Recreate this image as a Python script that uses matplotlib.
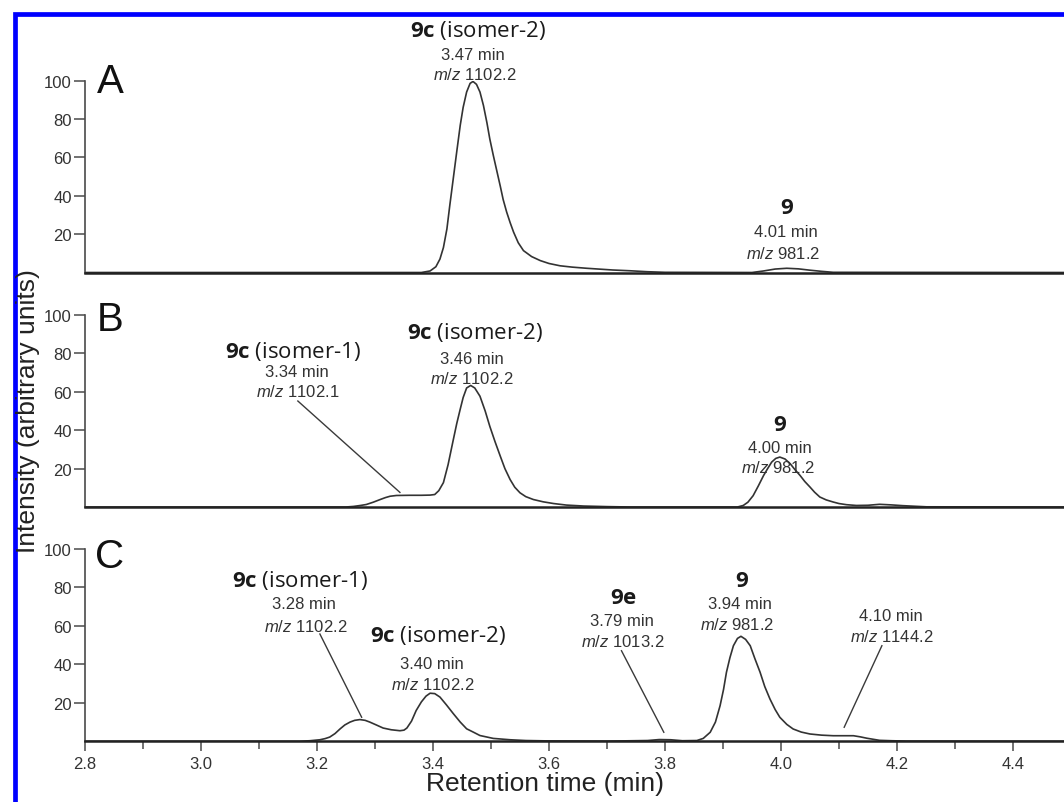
"""
LC-MS extracted ion chromatograms for panels A, B and C
(retention time vs. normalised intensity).
"""

import matplotlib.pyplot as plt
from matplotlib.lines import Line2D
from matplotlib.ticker import FixedLocator, MultipleLocator

plt.rcParams["font.family"] = ["Liberation Sans", "DejaVu Sans"]
plt.rcParams["mathtext.fontset"] = "custom"
plt.rcParams["mathtext.rm"] = "Liberation Sans"
plt.rcParams["mathtext.it"] = "Liberation Sans:italic"
plt.rcParams["mathtext.bf"] = "Open Sans:bold"

# ---- traces (time in min, intensity 0-100) ----
time_a = [2.80, 3.38, 3.395, 3.405, 3.412, 3.418, 3.424, 3.429, 3.435, 3.441,
          3.447, 3.452, 3.458, 3.464, 3.469, 3.475, 3.481, 3.487, 3.493, 3.498,
          3.504, 3.510, 3.516, 3.521, 3.527, 3.533, 3.539, 3.547, 3.556, 3.570,
          3.585, 3.600, 3.619, 3.640, 3.665, 3.690, 3.710, 3.740, 3.770, 3.800,
          3.950, 3.970, 3.990, 4.010, 4.030, 4.050, 4.070, 4.090, 4.49]
int_a = [0, 0, 0.8, 3, 7, 13, 22.7, 35, 49, 63,
         76.7, 86, 94, 98.5, 99.5, 98, 94, 87, 78, 69.5,
         61, 53, 45, 38, 31.5, 26, 21, 15.5, 11.4, 8.3,
         6.2, 4.7, 3.5, 2.8, 2.2, 1.7, 1.3, 0.9, 0.4, 0.1,
         0, 0.8, 1.8, 2.2, 1.9, 1.2, 0.6, 0.1, 0]

time_b = [2.80, 3.250, 3.263, 3.275, 3.285, 3.297, 3.309, 3.318, 3.326, 3.337,
          3.360, 3.380, 3.395, 3.403, 3.410, 3.418, 3.426, 3.435, 3.441, 3.447,
          3.452, 3.458, 3.465, 3.472, 3.481, 3.490, 3.498, 3.507, 3.516, 3.524,
          3.533, 3.541, 3.550, 3.560, 3.573, 3.590, 3.608, 3.630, 3.660, 3.700,
          3.740, 3.925, 3.935, 3.943, 3.952, 3.961, 3.970, 3.977, 3.984, 3.991,
          3.998, 4.007, 4.016, 4.024, 4.033, 4.041, 4.050, 4.058, 4.067, 4.078,
          4.090, 4.100, 4.113, 4.130, 4.150, 4.170, 4.190, 4.210, 4.230, 4.251,
          4.49]
int_b = [0, 0, 0.3, 0.8, 1.3, 2.5, 3.9, 4.9, 5.6, 6.0,
         6.1, 6.1, 6.2, 6.5, 8.5, 12.7, 22, 35, 43.5, 51,
         57, 62, 63.3, 62, 57.7, 50, 42, 34, 26.5, 20,
         14.3, 10.3, 7.4, 5.4, 3.9, 2.7, 1.8, 1.0, 0.5, 0.2,
         0, 0, 0.8, 2.5, 5.9, 11, 16.4, 20, 23.4, 25.3,
         26, 25, 22.5, 19.5, 16.4, 13.3, 10.4, 7.7, 5.2, 3.7,
         2.6, 1.8, 1.2, 0.8, 0.9, 1.4, 1.1, 0.7, 0.4, 0.1,
         0]

time_c = [2.80, 3.170, 3.188, 3.205, 3.214, 3.222, 3.231, 3.240, 3.248, 3.257,
          3.265, 3.274, 3.283, 3.291, 3.303, 3.314, 3.328, 3.343, 3.350, 3.355,
          3.363, 3.371, 3.380, 3.388, 3.395, 3.403, 3.412, 3.423, 3.435, 3.447,
          3.458, 3.470, 3.481, 3.504, 3.533, 3.560, 3.600, 3.700, 3.770, 3.790,
          3.810, 3.830, 3.855, 3.866, 3.878, 3.887, 3.895, 3.901, 3.906, 3.912,
          3.918, 3.925, 3.931, 3.939, 3.947, 3.955, 3.964, 3.972, 3.981, 3.990,
          3.998, 4.010, 4.021, 4.035, 4.050, 4.070, 4.090, 4.110, 4.125, 4.137,
          4.148, 4.160, 4.170, 4.190, 4.217, 4.49]
int_c = [0, 0, 0.3, 0.8, 1.4, 2.2, 4.0, 6.5, 8.5, 10,
         10.9, 11.3, 10.9, 10, 8.4, 6.9, 6.0, 5.5, 5.8, 6.9,
         10.5, 16, 20.5, 23.5, 25, 24.8, 23, 19, 14.4, 10,
         6.5, 4.7, 3.0, 1.5, 0.8, 0.4, 0.2, 0.1, 0.4, 0.9,
         0.8, 0.3, 0.4, 1.5, 4.7, 10, 18.5, 27, 35.9, 43.5,
         49.7, 53.5, 54.6, 53, 49.7, 43, 35.9, 28.5, 22, 16.5,
         12.5, 8.8, 6.4, 4.8, 3.8, 3.2, 2.9, 2.9, 2.9, 2.3,
         1.6, 1.0, 0.5, 0.3, 0.1, 0]

panel_letters = ["A", "B", "C"]
x_ticks = [2.8, 3.0, 3.2, 3.4, 3.6, 3.8, 4.0, 4.2, 4.4]
y_ticks = [20, 40, 60, 80, 100]

# peak labels: (time, intensity, text, is_compound_name)
labels_a = [
    (3.478, 126.5, r"$\mathbf{9c}$ (isomer-2)", True),
    (3.469, 113.8, "3.47 min", False),
    (3.472, 103.4, r"$\mathit{m/z}$ 1102.2", False),
    (4.010, 33.8, r"$\mathbf{9}$", True),
    (4.009, 21.1, "4.01 min", False),
    (4.003, 10.2, r"$\mathit{m/z}$ 981.2", False),
]
labels_b = [
    (3.159, 81.3, r"$\mathbf{9c}$ (isomer-1)", True),
    (3.166, 70.7, "3.34 min", False),
    (3.166, 60.4, r"$\mathit{m/z}$ 1102.1", False),
    (3.472, 91.3, r"$\mathbf{9c}$ (isomer-2)", True),
    (3.467, 77.6, "3.46 min", False),
    (3.467, 67.2, r"$\mathit{m/z}$ 1102.2", False),
    (3.998, 42.9, r"$\mathbf{9}$", True),
    (3.998, 31.2, "4.00 min", False),
    (3.995, 20.8, r"$\mathit{m/z}$ 981.2", False),
]
labels_c = [
    (3.171, 84.1, r"$\mathbf{9c}$ (isomer-1)", True),
    (3.178, 71.4, "3.28 min", False),
    (3.181, 60.1, r"$\mathit{m/z}$ 1102.2", False),
    (3.409, 55.6, r"$\mathbf{9c}$ (isomer-2)", True),
    (3.398, 40.2, "3.40 min", False),
    (3.399, 29.8, r"$\mathit{m/z}$ 1102.2", False),
    (3.729, 74.7, r"$\mathbf{9e}$", True),
    (3.725, 62.7, "3.79 min", False),
    (3.727, 52.3, r"$\mathit{m/z}$ 1013.2", False),
    (3.932, 83.4, r"$\mathbf{9}$", True),
    (3.929, 71.4, "3.94 min", False),
    (3.924, 61.0, r"$\mathit{m/z}$ 981.2", False),
    (4.189, 65.3, "4.10 min", False),
    (4.191, 54.9, r"$\mathit{m/z}$ 1144.2", False),
]

# leader lines: ((time0, int0), (time1, int1))
leaders_b = [((3.167, 55.2), (3.343, 7.6))]
leaders_c = [((3.205, 55.8), (3.277, 12.5)),
             ((3.725, 47.1), (3.798, 4.7)),
             ((4.174, 49.7), (4.109, 7.3))]

W, H = 1064, 803
fig = plt.figure(figsize=(W / 100, H / 100), dpi=100)

# pixel rows of the 0 and 100 gridlines for each panel
panel_rows = [(273.5, 81.5), (508.0, 316.0), (742.3, 550.0)]
traces = [(time_a, int_a), (time_b, int_b), (time_c, int_c)]
all_labels = [labels_a, labels_b, labels_c]
all_leaders = [[], leaders_b, leaders_c]

axis_color = "#4a4a4a"
text_color = "#333333"

for i, (y0, y100) in enumerate(panel_rows):
    ax = fig.add_axes([85 / W, 1 - y0 / H, 1 - 85 / W, (y0 - y100) / H])
    t, inten = traces[i]
    ax.plot(t, inten, color="#333333", linewidth=1.2, solid_joinstyle="round")
    ax.set_xlim(2.8, 4.488)
    ax.set_ylim(0, 100)
    ax.patch.set_alpha(0)

    for s in ("top", "right"):
        ax.spines[s].set_visible(False)
    ax.spines["left"].set_color(axis_color)
    ax.spines["left"].set_linewidth(1.2)
    ax.spines["bottom"].set_color("#222222")
    ax.spines["bottom"].set_linewidth(1.8)

    ax.yaxis.set_major_locator(FixedLocator(y_ticks))
    ax.tick_params(axis="y", direction="out", length=8, width=1.1,
                   color=axis_color, labelsize=12, labelcolor=text_color, pad=1.5)

    if i < 2:
        ax.tick_params(axis="x", which="both", bottom=False, labelbottom=False)
    else:
        ax.xaxis.set_major_locator(FixedLocator(x_ticks))
        ax.xaxis.set_major_formatter(plt.FuncFormatter(lambda v, p: f"{v:.1f}"))
        ax.xaxis.set_minor_locator(MultipleLocator(0.1))
        ax.tick_params(axis="x", which="major", direction="out", length=7,
                       width=1.1, color=axis_color, labelsize=12,
                       labelcolor=text_color, pad=3.5)
        ax.tick_params(axis="x", which="minor", direction="out", length=5.5,
                       width=1.1, color=axis_color)

    ax.text(2.843, 99.5 - 1.5 * i, panel_letters[i], fontsize=29,
            color="#111111", ha="center", va="center")

    for (tx, ty, s, is_name) in all_labels[i]:
        if is_name:
            ax.text(tx, ty, s, fontsize=16, family="Open Sans", color="#1a1a1a",
                    ha="center", va="center", clip_on=False)
        else:
            ax.text(tx, ty, s, fontsize=12, color=text_color,
                    ha="center", va="center", clip_on=False)

    for (p0, p1) in all_leaders[i]:
        ax.plot([p0[0], p1[0]], [p0[1], p1[1]], color="#3a3a3a",
                linewidth=1.0, clip_on=False)

fig.text(545 / W, 1 - 784 / H, "Retention time (min)", fontsize=19,
         color="#222222", ha="center", va="center")
fig.text(28 / W, 1 - 411 / H, "Intensity (arbitrary units)", fontsize=19,
         color="#222222", ha="center", va="center", rotation=90)

# blue frame (left and top edges of the cropped figure border)
bx, by = 14.5 / W, 1 - 14.5 / H
fig.add_artist(Line2D([bx, bx, 1.0], [0.0, by, by], color="#0000ff",
                      linewidth=3.4, transform=fig.transFigure,
                      solid_joinstyle="miter"))

fig.savefig("out.png", dpi=100)
